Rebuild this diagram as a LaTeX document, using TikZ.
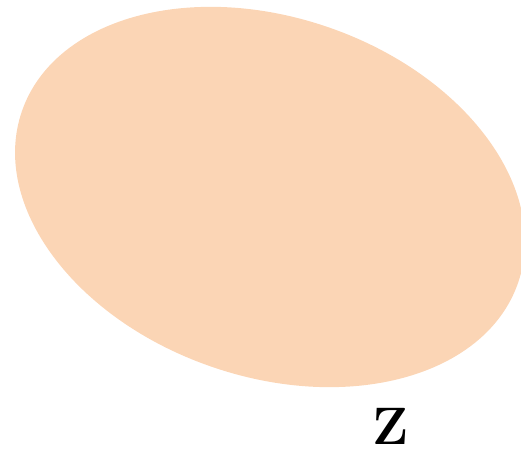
\documentclass[tikz,border=0pt]{standalone}
\usepackage{xcolor}
\usepackage{tikz}
\usetikzlibrary{positioning,calc}

\definecolor{peach}{RGB}{251,213,181}

\begin{document}
\begin{tikzpicture}
\useasboundingbox (0,0) rectangle (10.42,8.98);
\fill[peach, rotate around={-19.1:(5.40,5.04)}] (5.40,5.04) ellipse [x radius=5.25, y radius=3.59];
\node[font=\fontsize{30}{36}\selectfont\bfseries, inner sep=0pt] (zlabel) at (7.82,0.46) {Z};
\end{tikzpicture}
\end{document}
